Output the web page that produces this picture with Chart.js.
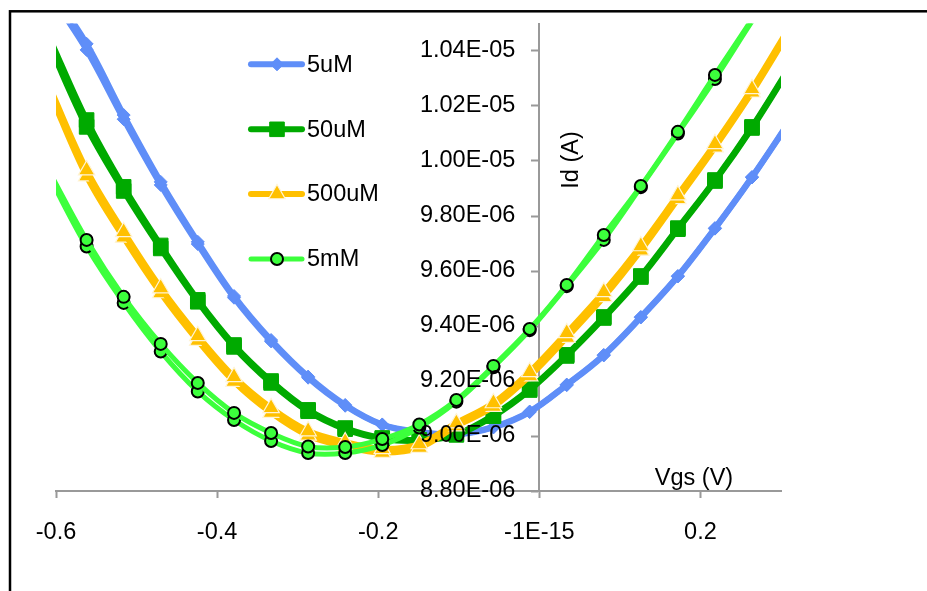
<!DOCTYPE html>
<html><head><meta charset="utf-8">
<script src="https://cdn.jsdelivr.net/npm/chart.js@4.4.0/dist/chart.umd.min.js"></script>
<style>html,body{margin:0;padding:0;background:#fff;overflow:hidden}#wrap{position:relative;width:927px;height:591px}</style>
</head><body><div id="wrap"><canvas id="c" width="927" height="591"></canvas></div>
<script>
// Gate voltage (V) of each measured point (shared by all sweeps)
const vgs = [-0.608, -0.562, -0.516, -0.470, -0.424, -0.379, -0.333, -0.287, -0.241, -0.195, -0.149, -0.103, -0.057, -0.012, 0.034, 0.080, 0.126, 0.172, 0.218, 0.264, 0.310];

// Drain current (A), forward sweep
const id5uM   = [10.629e-6, 10.426e-6, 10.167e-6, 9.924e-6, 9.706e-6, 9.509e-6, 9.349e-6, 9.216e-6, 9.113e-6, 9.042e-6, 9.015e-6, 9.007e-6, 9.033e-6, 9.089e-6, 9.187e-6, 9.295e-6, 9.433e-6, 9.582e-6, 9.756e-6, 9.942e-6, 10.142e-6];
const id50uM  = [10.447e-6, 10.149e-6, 9.906e-6, 9.693e-6, 9.495e-6, 9.331e-6, 9.200e-6, 9.095e-6, 9.029e-6, 8.993e-6, 8.986e-6, 9.007e-6, 9.076e-6, 9.171e-6, 9.295e-6, 9.433e-6, 9.582e-6, 9.756e-6, 9.931e-6, 10.124e-6, 10.338e-6];
const id500uM = [10.269e-6, 9.967e-6, 9.742e-6, 9.538e-6, 9.364e-6, 9.215e-6, 9.102e-6, 9.018e-6, 8.978e-6, 8.953e-6, 8.971e-6, 9.047e-6, 9.120e-6, 9.233e-6, 9.375e-6, 9.524e-6, 9.691e-6, 9.876e-6, 10.062e-6, 10.262e-6, 10.484e-6];
const id5mM   = [9.960e-6, 9.713e-6, 9.506e-6, 9.335e-6, 9.193e-6, 9.084e-6, 9.011e-6, 8.962e-6, 8.960e-6, 8.989e-6, 9.042e-6, 9.131e-6, 9.255e-6, 9.389e-6, 9.549e-6, 9.731e-6, 9.909e-6, 10.106e-6, 10.313e-6, 10.516e-6, 10.730e-6];

// Drain current (A), reverse sweep
const id5uMRev   = [10.610e-6, 10.404e-6, 10.152e-6, 9.913e-6, 9.698e-6, 9.503e-6, 9.344e-6, 9.212e-6, 9.110e-6, 9.040e-6, 9.013e-6, 9.005e-6, 9.031e-6, 9.087e-6, 9.185e-6, 9.293e-6, 9.431e-6, 9.580e-6, 9.754e-6, 9.940e-6, 10.140e-6];
const id50uMRev  = [10.420e-6, 10.124e-6, 9.891e-6, 9.682e-6, 9.488e-6, 9.324e-6, 9.193e-6, 9.090e-6, 9.025e-6, 8.990e-6, 8.983e-6, 9.004e-6, 9.072e-6, 9.167e-6, 9.291e-6, 9.429e-6, 9.578e-6, 9.752e-6, 9.927e-6, 10.120e-6, 10.334e-6];
const id500uMRev = [10.250e-6, 9.945e-6, 9.722e-6, 9.520e-6, 9.347e-6, 9.198e-6, 9.085e-6, 9.002e-6, 8.962e-6, 8.940e-6, 8.958e-6, 9.036e-6, 9.107e-6, 9.218e-6, 9.358e-6, 9.506e-6, 9.675e-6, 9.862e-6, 10.050e-6, 10.250e-6, 10.470e-6];
const id5mMRev   = [9.940e-6, 9.689e-6, 9.484e-6, 9.307e-6, 9.162e-6, 9.058e-6, 8.982e-6, 8.938e-6, 8.938e-6, 8.967e-6, 9.031e-6, 9.125e-6, 9.250e-6, 9.385e-6, 9.545e-6, 9.713e-6, 9.905e-6, 10.100e-6, 10.298e-6, 10.508e-6, 10.710e-6];

const seriesNames = ['5uM', '50uM', '500uM', '5mM'];

// Axis ticks
const xTickValues = [-0.6, -0.4, -0.2, 0, 0.2];
const xTickLabels = ['-0.6', '-0.4', '-0.2', '-1E-15', '0.2'];
const yTickValues = [8.8e-6, 9.0e-6, 9.2e-6, 9.4e-6, 9.6e-6, 9.8e-6, 10.0e-6, 10.2e-6, 10.4e-6];
const yTickLabels = ['8.80E-06', '9.00E-06', '9.20E-06', '9.40E-06', '9.60E-06', '9.80E-06', '1.00E-05', '1.02E-05', '1.04E-05'];
const X_MIN = -0.6, X_MAX = 0.3, Y_MIN = 8.8e-6, Y_MAX = 10.5e-6;

const FONT = "'Liberation Sans', Arial, sans-serif";
const FS = 23.5;
const pts = ys => vgs.map((x, i) => ({x: x, y: ys[i]}));
const inRange = c => { const p = c.parsed; return p && p.x >= X_MIN - 1e-9 && p.x <= X_MAX + 1e-9 && p.y <= Y_MAX && p.y >= Y_MIN; };

const styles = [
  {color: '#5F8EF8', style: 'rectRot', r: 6.5, bw: 1, bc: '#5F8EF8', lw: 6},
  {color: '#00AA00', style: 'rect', r: 10.3, bw: 1, bc: '#00AA00', lw: 6},
  {color: '#FFC000', style: 'triangle', r: 9.5, bw: 1.2, bc: '#FFF4D6', lw: 6},
  {color: '#3CFF3C', style: 'circle', r: 6, bw: 2, bc: '#000000', lw: 5}
];
function mk(label, ys, s, order) {
  return {
    label: label, data: pts(ys), order: order,
    borderColor: s.color, backgroundColor: s.color, borderWidth: s.lw,
    pointStyle: s.style, pointBackgroundColor: s.color, pointBorderColor: s.bc,
    pointBorderWidth: s.bw, pointRadius: c => inRange(c) ? s.r : 0, pointHoverRadius: c => inRange(c) ? s.r : 0,
    tension: 0.35, clip: 0, fill: false
  };
}
const datasets = [
  mk(seriesNames[0], id5uM, styles[0], 6),
  mk(seriesNames[1], id50uM, styles[1], 4),
  mk(seriesNames[2], id500uM, styles[2], 2),
  mk(seriesNames[3], id5mM, styles[3], 0),
  mk(seriesNames[0] + ' rev', id5uMRev, styles[0], 7),
  mk(seriesNames[1] + ' rev', id50uMRev, styles[1], 5),
  mk(seriesNames[2] + ' rev', id500uMRev, styles[2], 3),
  mk(seriesNames[3] + ' rev', id5mMRev, styles[3], 1)
];

const framePlugin = {
  id: 'frame',
  beforeDraw(chart) {
    const ctx = chart.ctx;
    ctx.save();
    ctx.fillStyle = '#fff';
    ctx.fillRect(0, 0, chart.width, chart.height);
    ctx.strokeStyle = '#000';
    ctx.lineWidth = 2.5;
    ctx.strokeRect(10, 11.3, 1000, 1000);
    ctx.restore();
  }
};
const legendPlugin = {
  id: 'insideLegend',
  afterDraw(chart) {
    const ctx = chart.ctx;
    const ys = [64.3, 129.3, 194, 259];
    ctx.save();
    for (let i = 0; i < 4; i++) {
      const s = styles[i], y = ys[i];
      ctx.strokeStyle = s.color; ctx.lineWidth = s.lw; ctx.lineCap = 'round';
      ctx.beginPath(); ctx.moveTo(251, y); ctx.lineTo(302, y); ctx.stroke();
      ctx.fillStyle = s.color; ctx.strokeStyle = s.bc; ctx.lineWidth = s.bw; ctx.lineCap = 'butt';
      Chart.helpers.drawPoint(ctx, {pointStyle: s.style, radius: s.r, borderWidth: s.bw, rotation: 0}, 277, y);
      ctx.fillStyle = '#000'; ctx.font = FS + 'px ' + FONT; ctx.textBaseline = 'middle'; ctx.textAlign = 'left';
      ctx.fillText(seriesNames[i], 307, y + 1);
    }
    ctx.restore();
  }
};
const titlePlugin = {
  id: 'axisTitles',
  afterDraw(chart) {
    const ctx = chart.ctx;
    ctx.save();
    ctx.fillStyle = '#000'; ctx.font = FS + 'px ' + FONT; ctx.textAlign = 'center'; ctx.textBaseline = 'middle';
    ctx.fillText('Vgs (V)', 694, 479);
    ctx.translate(572, 160); ctx.rotate(-Math.PI / 2);
    ctx.fillText('Id (A)', 0, 0);
    ctx.restore();
  }
};

// y axis crosses at x = 0; shift its labels to the left of the tick marks
function shiftYLabels(scale) {
  const orig = Object.getPrototypeOf(scale)._computeLabelItems;
  scale._computeLabelItems = function (ca) {
    const items = orig.call(this, ca);
    items.forEach(it => { if (it.options && it.options.translation) it.options.translation[0] -= 24; });
    return items;
  };
}

new Chart(document.getElementById('c'), {
  type: 'line',
  data: {datasets: datasets},
  plugins: [framePlugin, legendPlugin, titlePlugin],
  options: {
    responsive: false, animation: false,
    layout: {padding: {left: 56, right: 146, top: 23.5, bottom: 0}},
    plugins: {legend: {display: false}, tooltip: {enabled: false}},
    scales: {
      x: {
        type: 'linear', position: 'bottom', min: X_MIN, max: X_MAX,
        afterBuildTicks: s => { s.ticks = xTickValues.map(v => ({value: v})); },
        afterFit: s => { s.height = 100; s.paddingLeft = 0; s.paddingRight = 0; },
        ticks: {callback: (v, i) => xTickLabels[i], font: {family: FONT, size: FS}, color: '#000', padding: 20, maxRotation: 0, autoSkip: false},
        grid: {drawOnChartArea: false, drawTicks: true, tickLength: 7, tickWidth: 2, color: '#999'},
        border: {display: true, color: '#999', width: 2}
      },
      y: {
        type: 'linear', position: {x: 0}, min: Y_MIN, max: Y_MAX,
        afterBuildTicks: s => { s.ticks = yTickValues.map(v => ({value: v})); },
        afterFit: s => { s.paddingTop = 0; s.paddingBottom = 0; },
        afterUpdate: shiftYLabels,
        ticks: {z: 1, callback: (v, i) => yTickLabels[i], font: {family: FONT, size: FS}, color: '#000', padding: 17, autoSkip: false},
        grid: {drawOnChartArea: false, drawTicks: true, tickLength: 7, tickWidth: 2, color: '#999'},
        border: {display: true, color: '#999', width: 2}
      }
    }
  }
});
</script></body></html>
